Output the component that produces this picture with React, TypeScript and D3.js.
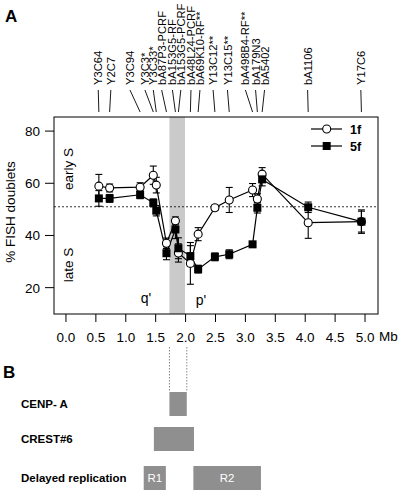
import React from "react";
import * as d3 from "d3";

const probes = ["Y3C64","Y2C7","Y3C94","Y3C3*","Y3C33*","bA87P3-PCRF","bA153G5-RF","bA153G5-PCRF","bA48L24-PCRF","bA69K10-RF**","Y13C12**","Y13C15**","bA498B4-RF**","bA179N3","bA5402","bA1106","Y17C6"];
const probeMb = [0.55,0.73,1.24,1.46,1.51,1.68,1.83,1.88,2.08,2.21,2.49,2.73,3.12,3.2,3.28,4.05,4.94];
const labelMb = [0.54,0.75,1.07,1.32,1.46,1.6,1.78,1.92,2.09,2.24,2.46,2.7,3.0,3.17,3.32,4.04,4.93];
const f1 = [58.9,58.2,58.5,63.1,59.3,37.0,45.6,33.3,29.3,40.5,50.6,53.6,57.4,54.0,63.5,44.9,45.3];
const f1Err = [4.5,1.5,1.7,3.5,3,2,1.5,3.5,8,2.5,1,4.8,2.5,2,2.5,6,4.5];
const f5 = [54.2,54.2,55.6,52.5,49.5,33.2,42.3,35.1,32.1,27.1,31.8,32.8,36.6,50.6,61.5,50.8,45.3];
const f5Err = [3,1.5,1.5,1.5,2,2.5,3.5,4,4,1.5,1.5,1.7,0.8,2,2.5,2,4];
const xTicks = [0,0.5,1,1.5,2,2.5,3,3.5,4,4.5,5];
const yTicks = [20,40,60,80];
const band = [1.73,1.99];
const threshold = 51;
const trackNames = ["CENP- A","CREST#6","Delayed replication"];
const trackBoxStart = [1.73,1.47,1.3,2.13];
const trackBoxEnd = [2.02,2.14,1.67,3.26];
const trackBoxRow = [0,1,2,2];
const trackBoxLabel = ["","","R1","R2"];

const W = 400, H = 493;
const L = 54, R = 378, T = 117, B = 314;
const FONT = "'Liberation Sans', Arial, sans-serif";

export default function App() {
  const x = d3.scaleLinear().domain([-0.2, 5.217]).range([L, R]);
  const y = d3.scaleLinear().domain([9.9, 85.4]).range([B, T]);
  const idx = d3.range(probes.length);
  const line1 = d3.line<number>().x(i => x(probeMb[i])).y(i => y(f1[i]));
  const line5 = d3.line<number>().x(i => x(probeMb[i])).y(i => y(f5[i]));
  const rowY = [392, 427, 466];
  const rowH = [24, 24, 24];
  const cap = 3.5;
  const sq = 8;
  const errBar = (mb: number, v: number, e: number, key: string) => {
    const px = x(mb), y1 = y(v + e), y2 = y(v - e);
    return (
      <g key={key} stroke="#000" strokeWidth={1.1}>
        <line x1={px} x2={px} y1={y1} y2={y2} />
        <line x1={px - cap} x2={px + cap} y1={y1} y2={y1} />
        <line x1={px - cap} x2={px + cap} y1={y2} y2={y2} />
      </g>
    );
  };
  return (
    <svg width={W} height={H} style={{ position: "absolute", left: 0, top: 0, background: "#fff" }} fontFamily={FONT}>
      <text x={5} y={22} fontSize={17} fontWeight="bold">A</text>
      <text x={3} y={378} fontSize={17} fontWeight="bold">B</text>
      {idx.map(i => (
        <g key={"lab" + i}>
          <text transform={`translate(${x(labelMb[i])},85) rotate(-90)`} fontSize={11.2} dy="0.36em">{probes[i]}</text>
          <line x1={x(labelMb[i])} x2={x(probeMb[i])} y1={90} y2={112} stroke="#000" strokeWidth={0.9} />
        </g>
      ))}
      <rect x={x(band[0])} y={T} width={x(band[1]) - x(band[0])} height={B - T} fill="#cacaca" />
      <line x1={L} x2={R} y1={y(threshold)} y2={y(threshold)} stroke="#000" strokeWidth={0.8} strokeDasharray="2,2" />
      <rect x={L} y={T} width={R - L} height={B - T} fill="none" stroke="#000" strokeWidth={1} />
      {xTicks.map(t => (
        <g key={"xt" + t}>
          <line x1={x(t)} x2={x(t)} y1={B} y2={B + 8} stroke="#000" />
          <text x={x(t)} y={342} fontSize={13.5} textAnchor="middle">{d3.format(".1f")(t)}</text>
        </g>
      ))}
      <text x={379} y={341} fontSize={13.5}>Mb</text>
      {yTicks.map(t => (
        <g key={"yt" + t}>
          <line x1={L - 9} x2={L} y1={y(t)} y2={y(t)} stroke="#000" />
          <text x={40} y={y(t)} dy="0.36em" fontSize={13.5} textAnchor="end">{t}</text>
        </g>
      ))}
      <text transform="translate(10,212) rotate(-90)" fontSize={13.5} textAnchor="middle" dy="0.36em">% FISH doublets</text>
      <text transform="translate(68,169) rotate(-90)" fontSize={13.5} textAnchor="middle" dy="0.36em">early S</text>
      <text transform="translate(68,265) rotate(-90)" fontSize={13.5} textAnchor="middle" dy="0.36em">late S</text>
      <text x={146} y={303} fontSize={14} textAnchor="middle">q'</text>
      <text x={201} y={305} fontSize={14} textAnchor="middle">p'</text>
      <path d={line1(idx) || ""} fill="none" stroke="#000" strokeWidth={1.2} />
      <path d={line5(idx) || ""} fill="none" stroke="#000" strokeWidth={1.2} />
      {idx.map(i => errBar(probeMb[i], f1[i], f1Err[i], "e1" + i))}
      {idx.map(i => errBar(probeMb[i], f5[i], f5Err[i], "e5" + i))}
      {idx.map(i => (
        <circle key={"c" + i} cx={x(probeMb[i])} cy={y(f1[i])} r={4} fill="#fff" stroke="#000" strokeWidth={1.1} />
      ))}
      {idx.map(i => (
        <rect key={"s" + i} x={x(probeMb[i]) - sq / 2} y={y(f5[i]) - sq / 2} width={sq} height={sq} fill="#000" />
      ))}
      <line x1={311} x2={342} y1={129} y2={129} stroke="#000" strokeWidth={1.2} />
      <circle cx={326.7} cy={129} r={4} fill="#fff" stroke="#000" strokeWidth={1.1} />
      <text x={350} y={129} dy="0.36em" fontSize={12.5} fontWeight="bold">1f</text>
      <line x1={311} x2={342} y1={146} y2={146} stroke="#000" strokeWidth={1.2} />
      <rect x={326.7 - sq / 2} y={146 - sq / 2} width={sq} height={sq} fill="#000" />
      <text x={350} y={146} dy="0.36em" fontSize={12.5} fontWeight="bold">5f</text>
      <line x1={x(band[0])} x2={x(band[0])} y1={347} y2={392} stroke="#888" strokeDasharray="1.5,1.5" />
      <line x1={x(trackBoxEnd[0])} x2={x(trackBoxEnd[0])} y1={347} y2={392} stroke="#888" strokeDasharray="1.5,1.5" />
      {trackNames.map((n, i) => (
        <text key={"tn" + i} x={21} y={rowY[i] + rowH[i] / 2} dy="0.36em" fontSize={11.5} fontWeight="bold">{n}</text>
      ))}
      {trackBoxStart.map((s, i) => (
        <g key={"tb" + i}>
          <rect x={x(s)} y={rowY[trackBoxRow[i]]} width={x(trackBoxEnd[i]) - x(s)} height={rowH[trackBoxRow[i]]} fill="#8f8f8f" />
          {trackBoxLabel[i] && (
            <text x={(x(s) + x(trackBoxEnd[i])) / 2} y={rowY[trackBoxRow[i]] + rowH[trackBoxRow[i]] / 2} dy="0.36em" textAnchor="middle" fontSize={11.5} fill="#fff">{trackBoxLabel[i]}</text>
          )}
        </g>
      ))}
    </svg>
  );
}
